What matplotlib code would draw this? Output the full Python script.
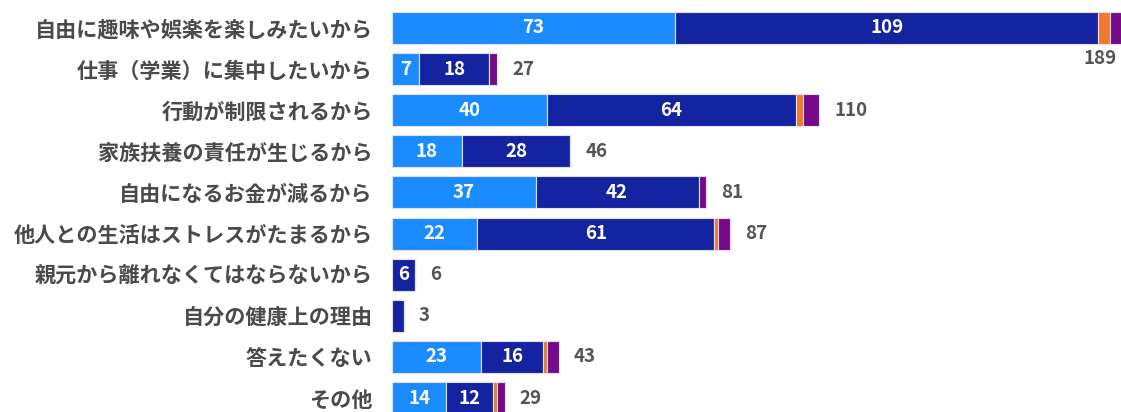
import matplotlib
matplotlib.use('Agg')
import matplotlib.pyplot as plt
import numpy as np

plt.rcParams['font.family'] = ['Noto Sans CJK JP', 'DejaVu Sans']

categories = ['自由に趣味や娯楽を楽しみたいから', '仕事（学業）に集中したいから', '行動が制限されるから',
              '家族扶養の責任が生じるから', '自由になるお金が減るから', '他人との生活はストレスがたまるから',
              '親元から離れなくてはならないから', '自分の健康上の理由', '答えたくない', 'その他']
light = [73, 7, 40, 18, 37, 22, 0, 0, 23, 14]
dark = [109, 18, 64, 28, 42, 61, 6, 3, 16, 12]
orange = [3, 0, 2, 0, 0, 1, 0, 0, 1, 1]
purple = [4, 2, 4, 0, 2, 3, 0, 0, 3, 2]

colors = ['#1a8cff', '#1423a0', '#ee7a2c', '#760a88']
series = [light, dark, orange, purple]

fig = plt.figure(figsize=(11.21, 4.12), dpi=100)
ax = fig.add_axes([392/1121, 0, 1 - 392/1121, 1])
xmax = (1121 - 392) / 3.88
ax.set_xlim(0, xmax)
ax.set_ylim(9.34, -0.68)

y = np.arange(len(categories))
left = np.zeros(len(categories))
for i, (vals, c) in enumerate(zip(series, colors)):
    vals = np.array(vals, dtype=float)
    ax.barh(y, vals, left=left, height=0.78, color=c, edgecolor='#e4def4', linewidth=0.8)
    if i < 2:
        # only label segments wide enough to hold a number
        for yy, l, v in zip(y, left, vals):
            if v >= 5:
                ax.text(l + v / 2, yy, str(int(v)), ha='center', va='center', color='white',
                        fontsize=13.5, fontweight='bold')
    left = left + vals

totals = left
for yy, t in zip(y, totals):
    if t > xmax - 8:
        ax.text(xmax - 1, yy + 0.75, str(int(t)), ha='right', va='center', color='#555555',
                fontsize=13.5, fontweight='bold')
    else:
        ax.annotate(str(int(t)), (t, yy), xytext=(11, 0), textcoords='offset points',
                    ha='left', va='center', color='#555555', fontsize=13.5, fontweight='bold')

ax.set_yticks(y)
ax.set_yticklabels(categories, fontsize=15.2, color='#4a4a4a', fontweight='bold')
ax.tick_params(axis='y', length=0, pad=14)
ax.set_xticks([])
for s in ax.spines.values():
    s.set_visible(False)

fig.savefig('out.png', dpi=100)
